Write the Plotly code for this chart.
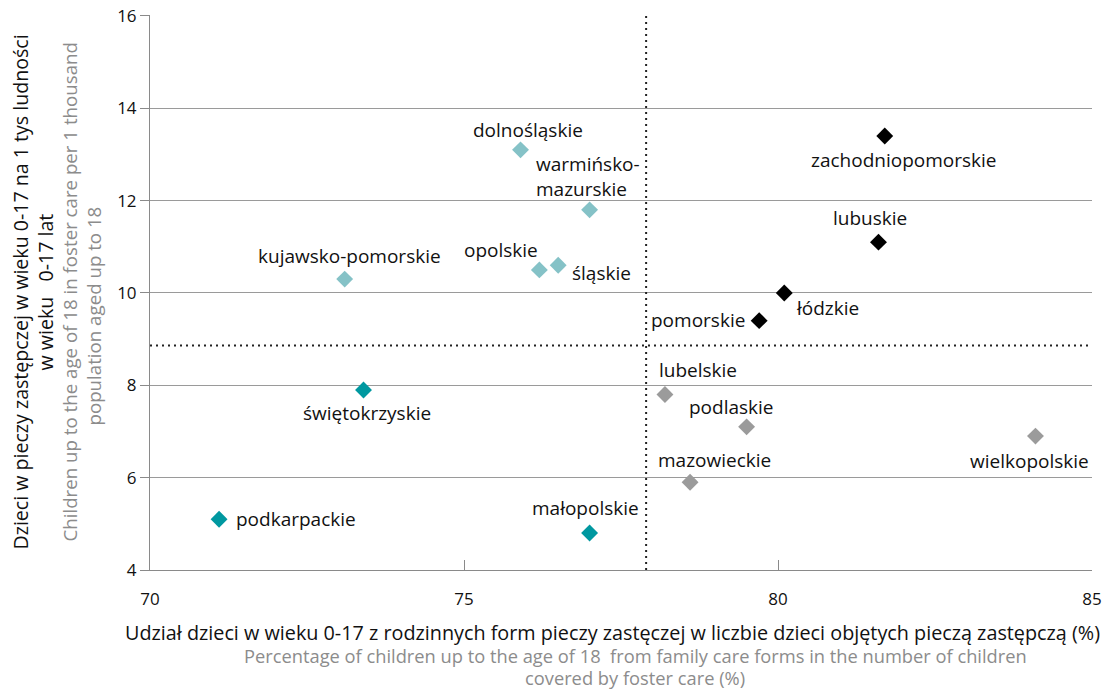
import plotly.graph_objects as go

# województwa, share of family foster care (%) vs children in foster care per 1000
regions = [
    "dolnośląskie", "warmińsko-<br>mazurskie", "kujawsko-pomorskie", "opolskie", "śląskie",
    "świętokrzyskie", "podkarpackie", "małopolskie",
    "zachodniopomorskie", "lubuskie", "łódzkie", "pomorskie",
    "lubelskie", "podlaskie", "mazowieckie", "wielkopolskie",
]
x_vals = [75.9, 77.0, 73.1, 76.2, 76.5, 73.4, 71.1, 77.0,
          81.7, 81.6, 80.1, 79.7, 78.2, 79.5, 78.6, 84.1]
y_vals = [13.1, 11.8, 10.3, 10.5, 10.6, 7.9, 5.1, 4.8,
          13.4, 11.1, 10.0, 9.4, 7.8, 7.1, 5.9, 6.9]
group = ["tl"] * 5 + ["bl"] * 3 + ["tr"] * 4 + ["br"] * 4

mean_x = 77.9
mean_y = 8.86

x_title = "Udział dzieci w wieku 0-17 z rodzinnych form pieczy zastęczej w liczbie dzieci objętych pieczą zastępczą (%)"
x_title_en = ["Percentage of children up to the age of 18  from family care forms in the number of children",
              "covered by foster care (%)"]
y_title = ["Dzieci w pieczy zastępczej w wieku 0-17 na 1 tys ludności", "w wieku   0-17 lat"]
y_title_en = ["Children up to the age of 18 in foster care per 1 thousand", "population aged up to 18"]

GROUP_COLORS = {"tl": "#85c2c7", "bl": "#0098a0", "tr": "#000000", "br": "#9b9b9b"}

# label placement: (xanchor, dx, dy) in px, dy downwards
LABEL_POS = [
    ("center", 7, -20), ("left", -56, -33), ("center", 5, -23), ("right", 1, -20), ("left", 12, 8),
    ("center", 3, 23), ("left", 15, 0), ("center", -4, -25),
    ("center", 19, 24), ("center", -8, -24), ("left", 10, 15), ("right", -12, -1),
    ("left", -8, -25), ("center", -15, -20), ("left", -34, -22), ("center", -6, 25),
]

FONT = "Open Sans, Lato, sans-serif"
BLACK = "#111111"
GREY = "#8c8c8c"

fig = go.Figure()
for g in ["tl", "bl", "tr", "br"]:
    idx = [i for i, k in enumerate(group) if k == g]
    fig.add_trace(go.Scatter(
        x=[x_vals[i] for i in idx],
        y=[y_vals[i] for i in idx],
        mode="markers",
        marker=dict(symbol="diamond", size=13, color=GROUP_COLORS[g], line=dict(width=0)),
        hoverinfo="skip",
        showlegend=False,
    ))

for name, x, y, (anchor, dx, dy) in zip(regions, x_vals, y_vals, LABEL_POS):
    fig.add_annotation(
        x=x, y=y, text=name, showarrow=False,
        xanchor=anchor, yanchor="middle", align="left",
        xshift=dx, yshift=-dy,
        font=dict(family=FONT, size=19, color=BLACK),
    )

# mean lines
fig.add_shape(type="line", xref="x", yref="paper", x0=mean_x, x1=mean_x, y0=0, y1=1,
              line=dict(color="#222", width=2, dash="2px,4px"))
fig.add_shape(type="line", xref="paper", yref="y", x0=0, x1=1, y0=mean_y, y1=mean_y,
              line=dict(color="#222", width=2, dash="2px,4px"))

# axis titles, one annotation per line: (text, colour, size, xshift, yshift)
x_lines = [(x_title, BLACK, 19.8, -9, -62),
           (x_title_en[0], GREY, 18.3, 14, -85),
           (x_title_en[1], GREY, 18.3, 14, -107)]
for txt, col, sz, xs, ys in x_lines:
    fig.add_annotation(
        xref="paper", yref="paper", x=0.5, y=0, xanchor="center", yanchor="middle",
        xshift=xs, yshift=ys, text=txt, showarrow=False,
        font=dict(family=FONT, size=sz, color=col),
    )
y_lines = [(y_title[0], BLACK, 19.6, -130, 0), (y_title[1], BLACK, 19.6, -105, 0),
           (y_title_en[0], GREY, 18.7, -81, 0), (y_title_en[1], GREY, 18.7, -57, -24)]
for txt, col, sz, xs, ys in y_lines:
    fig.add_annotation(
        xref="paper", yref="paper", x=0, y=0.5, xanchor="center", yanchor="middle",
        xshift=xs, yshift=ys, textangle=-90, text=txt, showarrow=False,
        font=dict(family=FONT, size=sz, color=col),
    )

fig.update_xaxes(
    range=[70, 85], dtick=5, showgrid=False, zeroline=False, automargin=False,
    showline=True, linecolor="#8a8a8a", linewidth=1,
    ticks="inside", ticklen=10, tickcolor="#8a8a8a", ticklabelstandoff=14,
    ticklabeloverflow="allow",
    tickfont=dict(family=FONT, size=17, color=BLACK),
)
fig.update_yaxes(
    range=[4, 16.02], dtick=2, showgrid=True, gridcolor="#9a9a9a", gridwidth=1, zeroline=False,
    automargin=False, showline=True, linecolor="#8a8a8a", linewidth=1,
    ticks="outside", ticklen=9, tickcolor="#8a8a8a", ticklabeloverflow="allow",
    tickfont=dict(family=FONT, size=17, color=BLACK),
)
# page body adds an 8px offset, so the figure is sized to the visible area
fig.update_layout(
    width=1105, height=683,
    margin=dict(l=142, r=21, t=7, b=121),
    plot_bgcolor="white", paper_bgcolor="white",
)

fig.write_html("out.html")
